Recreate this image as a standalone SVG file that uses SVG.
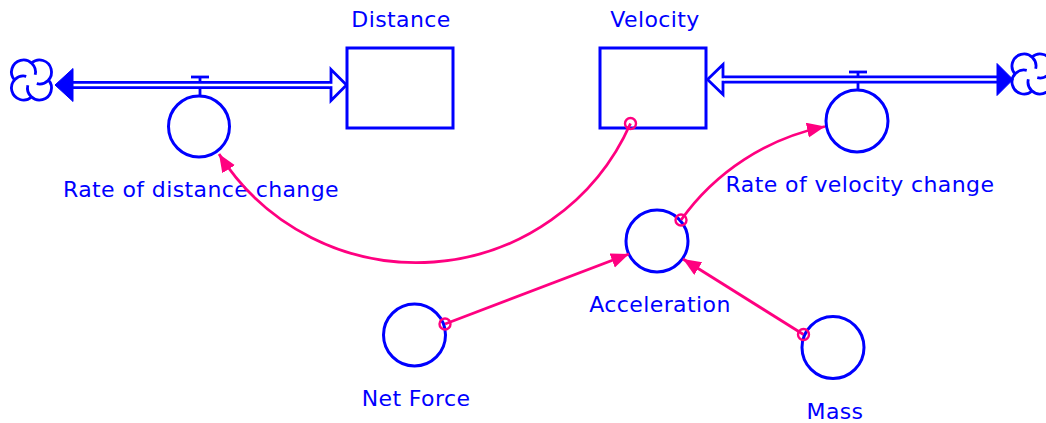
<svg xmlns="http://www.w3.org/2000/svg" width="1046" height="423" viewBox="0 0 1046 423">
<style>
.lbl{font-family:"DejaVu Sans","Verdana",sans-serif;font-size:22px;fill:#0000ff;text-anchor:middle;letter-spacing:0.4px}
.blue{fill:none;stroke:#0000ff;stroke-width:2.8}
.stock{fill:#ffffff;stroke:#0000ff;stroke-width:3}
.aux{fill:#ffffff;stroke:#0000ff;stroke-width:3}
.pipeo{fill:none;stroke:#0000ff;stroke-width:8}
.pipei{fill:none;stroke:#ffffff;stroke-width:2.4}
.link{fill:none;stroke:#ff0080;stroke-width:2.8;marker-end:url(#ah)}
.orig{fill:none;stroke:#ff0080;stroke-width:2.4}
</style>
<defs>
<marker id="ah" markerUnits="userSpaceOnUse" markerWidth="20" markerHeight="16" refX="18" refY="7.5" orient="auto">
<path d="M0,0 L18,7.5 L0,15 z" fill="#ff0080"/>
</marker>
<path id="cloud" d="M -16.94 0 A 12 12 0 1 1 3.68 -5.26 M 0 -16.94 A 12 12 0 1 1 5.26 3.68 M 16.94 0 A 12 12 0 1 1 -3.68 5.26 M 0 16.94 A 12 12 0 1 1 -5.26 -3.68" fill="none" stroke="#0000ff" stroke-width="2.8"/>
</defs>

<g id="flow-distance">
<use href="#cloud" x="31.5" y="80"/>
<line class="blue" x1="200" y1="77" x2="200" y2="96"/>
<line class="blue" x1="191" y1="77" x2="209" y2="77"/>
<line class="pipeo" x1="70" y1="85" x2="331" y2="85"/>
<line class="pipei" x1="70" y1="85" x2="332" y2="85"/>
<polygon points="55,85 73,68.5 73,101.5" fill="#0000ff" stroke="#0000ff" stroke-width="1"/>
<polygon points="331,69.5 346.5,85 331,100.5" fill="#ffffff" stroke="#0000ff" stroke-width="2.8"/>
<line class="pipei" x1="329" y1="85" x2="333" y2="85"/>
</g>

<g id="flow-velocity">
<use href="#cloud" x="1032" y="74"/>
<line class="blue" x1="858" y1="72" x2="858" y2="90"/>
<line class="blue" x1="849" y1="72" x2="867" y2="72"/>
<line class="pipeo" x1="722" y1="79.5" x2="999" y2="79.5"/>
<line class="pipei" x1="721" y1="79.5" x2="999" y2="79.5"/>
<polygon points="1013,79.5 997,63.5 997,95.5" fill="#0000ff" stroke="#0000ff" stroke-width="1"/>
<polygon points="723,64.5 707.5,79.5 723,94.5" fill="#ffffff" stroke="#0000ff" stroke-width="2.8"/>
<line class="pipei" x1="721" y1="79.5" x2="725" y2="79.5"/>
</g>

<g id="Distance">
<rect class="stock" x="347" y="48" width="106" height="80"/>
<text class="lbl" x="401" y="27">Distance</text>
</g>

<g id="Velocity">
<rect class="stock" x="600" y="48" width="106" height="80"/>
<text class="lbl" x="655" y="27">Velocity</text>
</g>

<g id="RateDistance">
<circle class="aux" cx="199" cy="126.5" r="30.5"/>
<text class="lbl" x="201" y="197">Rate of distance change</text>
</g>

<g id="RateVelocity">
<circle class="aux" cx="857" cy="121" r="31"/>
<text class="lbl" x="860" y="192">Rate of velocity change</text>
</g>

<g id="Acceleration">
<circle class="aux" cx="657" cy="241" r="31"/>
<text class="lbl" x="660" y="312">Acceleration</text>
</g>

<g id="NetForce">
<circle class="aux" cx="414.5" cy="335" r="31"/>
<text class="lbl" x="416" y="406">Net Force</text>
</g>

<g id="Mass">
<circle class="aux" cx="833" cy="347.5" r="31"/>
<text class="lbl" x="835" y="419">Mass</text>
</g>

<g id="connectors">
<path class="link" d="M 630.5 123.5 A 234 234 0 0 1 219 154"/>
<circle class="orig" cx="630.5" cy="123.5" r="5.5"/>
<path class="link" d="M 681 220 A 234 234 0 0 1 825 126.5"/>
<circle class="orig" cx="681" cy="220" r="5.5"/>
<path class="link" d="M 445 324 L 629 254"/>
<circle class="orig" cx="445" cy="324" r="5.5"/>
<path class="link" d="M 803.5 334.5 L 683 259"/>
<circle class="orig" cx="803.5" cy="334.5" r="5.5"/>
</g>
</svg>
